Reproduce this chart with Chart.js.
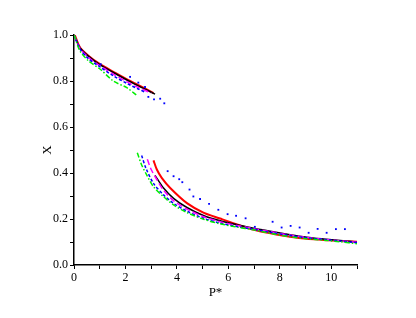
<!DOCTYPE html>
<html>
<head>
<meta charset="utf-8">
<script src="https://cdn.jsdelivr.net/npm/chart.js@4"></script>
<style>
  body { margin: 0; background: #fff; }
  #grafica { display: block; }
</style>
</head>
<body>
<canvas id="grafica" width="416" height="318"></canvas>
<script>
// rama superior (x, X) de cada modelo
const rojoSupX = [0, 0.04, 0.23, 0.56, 1.01, 1.53, 2.18, 2.7, 3.09]
const rojoSupY = [1.0, 0.997, 0.946, 0.91, 0.873, 0.84, 0.80, 0.771, 0.747]
const negroSupX = [0, 0.23, 0.56, 1.0, 1.53, 2.18, 2.7, 3.15]
const negroSupY = [1.0, 0.945, 0.908, 0.871, 0.837, 0.797, 0.768, 0.743]
const magentaSupX = [0, 0.23, 0.56, 1.0, 1.53, 2.05, 2.5, 3.0]
const magentaSupY = [1.0, 0.943, 0.903, 0.867, 0.83, 0.797, 0.772, 0.748]
const azulSupX = [0, 0.23, 0.56, 1.0, 1.53, 2.05, 2.5, 2.8]
const azulSupY = [1.0, 0.94, 0.897, 0.862, 0.822, 0.79, 0.765, 0.75]
const verdeSupX = [0, 0.04, 0.23, 0.56, 1.01, 1.53, 2.05, 2.44]
const verdeSupY = [1.0, 0.99, 0.931, 0.888, 0.852, 0.80, 0.771, 0.738]

// rama inferior
const rojoInfX = [3.09, 3.22, 3.41, 3.74, 4.39, 5.03, 5.68, 6.46, 7.11, 7.76, 8.4, 9.05, 9.7, 10.35, 11.0]
const rojoInfY = [0.455, 0.415, 0.379, 0.335, 0.269, 0.228, 0.202, 0.172, 0.15, 0.135, 0.123, 0.114, 0.109, 0.104, 0.101]
const negroInfX = [3.15, 3.48, 3.87, 4.39, 5.03, 5.68, 6.33, 6.98, 7.63, 8.4, 9.05, 9.7, 10.35, 11.0]
const negroInfY = [0.39, 0.335, 0.29, 0.25, 0.215, 0.192, 0.175, 0.16, 0.147, 0.132, 0.121, 0.113, 0.106, 0.1]
const magentaInfX = [2.85, 3.0, 3.2, 3.48, 3.87, 4.39, 5.03, 5.68, 6.33, 6.98, 7.63, 8.4, 9.05, 9.7, 10.35, 11.0]
const magentaInfY = [0.46, 0.415, 0.375, 0.325, 0.28, 0.243, 0.21, 0.188, 0.172, 0.158, 0.145, 0.13, 0.12, 0.112, 0.105, 0.099]
const azulInfX = [2.63, 2.8, 3.09, 3.48, 3.87, 4.39, 5.03, 5.68, 6.33, 6.98, 7.63, 8.4, 9.05, 9.7, 10.35, 11.0]
const azulInfY = [0.476, 0.42, 0.355, 0.305, 0.268, 0.234, 0.203, 0.182, 0.167, 0.155, 0.142, 0.128, 0.118, 0.111, 0.104, 0.097]
const verdeInfX = [2.46, 2.63, 2.83, 3.09, 3.48, 3.87, 4.39, 5.03, 5.68, 6.33, 6.98, 7.63, 8.4, 9.05, 9.7, 10.35, 11.0]
const verdeInfY = [0.488, 0.435, 0.391, 0.340, 0.297, 0.261, 0.228, 0.199, 0.179, 0.165, 0.153, 0.138, 0.123, 0.114, 0.108, 0.101, 0.092]

// puntos experimentales (azul)
const expX = [1.04, 2.18, 2.5, 2.76, 2.89, 3.11, 3.35, 3.51, 3.64, 3.87, 4.09, 4.21, 4.49, 4.64, 4.9, 5.25, 5.61, 5.97, 6.3, 6.67, 7.03, 7.72, 8.07, 8.42, 8.77, 9.12, 9.47, 9.82, 10.18, 10.53]
const expY = [0.873, 0.818, 0.793, 0.774, 0.731, 0.72, 0.723, 0.703, 0.408, 0.386, 0.373, 0.36, 0.328, 0.298, 0.287, 0.266, 0.24, 0.221, 0.214, 0.203, 0.166, 0.188, 0.163, 0.17, 0.163, 0.14, 0.157, 0.14, 0.156, 0.156]

const fuente = "'Liberation Serif', 'Times New Roman', serif"

function puntos(xs, ys) {
    return xs.map((x, i) => ({ x: x, y: ys[i] }))
}

function linea(xs, ys, color, ancho, guiones) {
    return {
        data: puntos(xs, ys),
        showLine: true,
        borderColor: color,
        backgroundColor: color,
        borderWidth: ancho,
        borderDash: guiones,
        pointRadius: 0,
        tension: 0.3
    }
}

const datasets = [
    {
        data: puntos(expX, expY),
        showLine: false,
        pointStyle: 'rect',
        pointRadius: 1.3,
        borderWidth: 0,
        backgroundColor: '#0000ff'
    },
    linea(verdeSupX, verdeSupY, '#00ee00', 1.5, [5, 2, 1.5, 2]),
    linea(verdeInfX, verdeInfY, '#00ee00', 1.5, [5, 2, 1.5, 2]),
    linea(azulSupX, azulSupY, '#0000ff', 1.5, [3, 2]),
    linea(azulInfX, azulInfY, '#0000ff', 1.5, [3, 2]),
    linea(magentaSupX, magentaSupY, '#ff00ff', 1.5, [6, 3]),
    linea(magentaInfX, magentaInfY, '#ff00ff', 1.5, [6, 3]),
    linea(negroSupX, negroSupY, '#000000', 1.5, []),
    linea(negroInfX, negroInfY, '#000000', 1.5, []),
    linea(rojoSupX, rojoSupY, '#ff0000', 2, []),
    linea(rojoInfX, rojoInfY, '#ff0000', 2, [])
]

const config = {
    type: 'scatter',
    data: { datasets: datasets },
    options: {
        responsive: false,
        animation: false,
        layout: { padding: { left: 36, right: 59, top: 35, bottom: 14 } },
        plugins: { legend: { display: false }, tooltip: { enabled: false } },
        scales: {
            x: {
                type: 'linear',
                min: 0,
                max: 11,
                afterFit: (s) => { s.height = 39 },
                border: { display: true, color: '#000', width: 1.5 },
                grid: { display: true, drawOnChartArea: false, drawTicks: true, tickLength: 4, tickColor: '#000' },
                ticks: {
                    stepSize: 1,
                    color: '#000',
                    padding: 2,
                    maxRotation: 0,
                    font: { family: fuente, size: 12 },
                    callback: (v) => (v % 2 === 0 && v <= 10) ? String(v) : ''
                },
                title: { display: true, text: 'P*', color: '#000', font: { family: fuente, size: 13 }, padding: { top: 2 } }
            },
            y: {
                type: 'linear',
                min: 0,
                max: 1,
                afterFit: (s) => { s.width = 38 },
                border: { display: true, color: '#000', width: 1.5 },
                grid: { display: true, drawOnChartArea: false, drawTicks: true, tickLength: 4, tickColor: '#000' },
                ticks: {
                    stepSize: 0.1,
                    color: '#000',
                    padding: 2,
                    font: { family: fuente, size: 12 },
                    callback: (v) => (Math.round(v * 10) % 2 === 0) ? v.toFixed(1) : ''
                },
                title: { display: true, text: 'X', color: '#000', font: { family: fuente, size: 13 }, padding: { bottom: 4 } }
            }
        }
    }
}

new Chart(document.getElementById('grafica'), config)
</script>
</body>
</html>
